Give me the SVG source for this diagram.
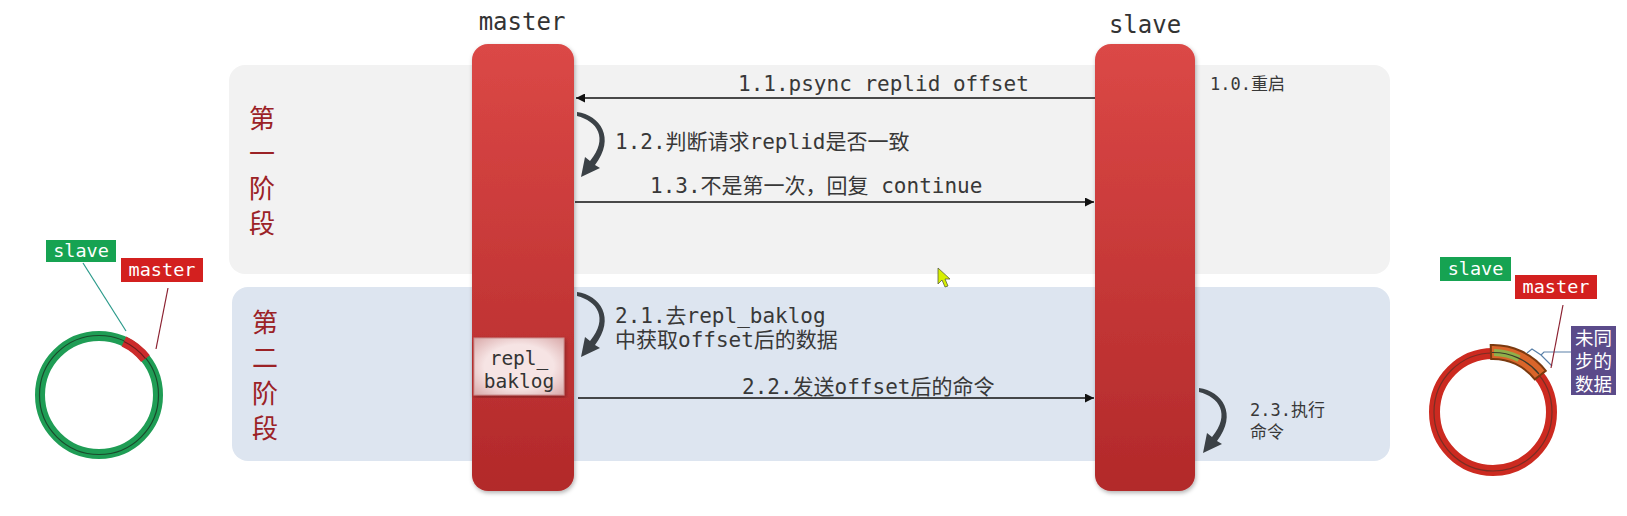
<svg xmlns="http://www.w3.org/2000/svg" width="1627" height="516" viewBox="0 0 1627 516">
<defs>
<style>
.mono{font-family:"DejaVu Sans Mono","Liberation Mono","Noto Sans CJK SC",monospace;}
.lbl{font-size:21px;fill:#383838;}
.sm{font-size:17px;fill:#383838;}
.phase{font-family:"Noto Sans CJK SC","Noto Sans",sans-serif;font-size:26px;fill:#9b2226;text-anchor:middle;}
.tag{font-size:18.5px;fill:#fff;text-anchor:middle;}
.conn{stroke:#111;stroke-width:1.4;fill:none;}
.arc{fill:#3b4146;}
.cjk{font-family:"Noto Sans CJK SC",sans-serif;font-size:18.5px;fill:#fff;text-anchor:middle;}
</style>
<linearGradient id="barG" x1="0" y1="0" x2="0" y2="1">
<stop offset="0" stop-color="#db4846"/>
<stop offset="1" stop-color="#b2292a"/>
</linearGradient>
<radialGradient id="bakG" cx="0.5" cy="0.5" r="0.7">
<stop offset="0.55" stop-color="#f6e4e4"/>
<stop offset="1" stop-color="#d9a9a9"/>
</radialGradient>
<filter id="sh" x="-20%" y="-5%" width="140%" height="110%">
<feDropShadow dx="1" dy="2" stdDeviation="2" flood-color="#000" flood-opacity="0.3"/>
</filter>
<marker id="ah" viewBox="0 0 10 10" refX="10" refY="5" markerWidth="10" markerHeight="9" markerUnits="userSpaceOnUse" orient="auto">
<path d="M0,0 L10,5 L0,10 Z" fill="#111"/>
</marker>
<path id="curl" d="M577 112 C600 115 616 138 595 165 L600 168 L581 177 L585 157 L590 161 C609 138 597 121 577 116 Z"/>
</defs>

<rect width="1627" height="516" fill="#fff"/>

<g id="phase1">
<rect x="229" y="65" width="1161" height="209" rx="16" fill="#f2f2f2"/>
<text class="phase" x="262" y="128">第</text>
<text class="phase" x="262" y="163">一</text>
<text class="phase" x="262" y="198">阶</text>
<text class="phase" x="262" y="233">段</text>
</g>
<g id="phase2">
<rect x="232" y="287" width="1158" height="174" rx="16" fill="#dde5f0"/>
<text class="phase" x="265" y="332">第</text>
<text class="phase" x="265" y="367">二</text>
<text class="phase" x="265" y="403">阶</text>
<text class="phase" x="265" y="438">段</text>
</g>

<g id="master">
<text class="mono" x="522" y="30" font-size="24" fill="#333" text-anchor="middle">master</text>
<rect x="472" y="44" width="102" height="447" rx="16" fill="url(#barG)" filter="url(#sh)"/>
</g>
<g id="slave">
<text class="mono" x="1145" y="33" font-size="24" fill="#333" text-anchor="middle">slave</text>
<rect x="1095" y="44" width="100" height="447" rx="16" fill="url(#barG)" filter="url(#sh)"/>
</g>

<g id="repl_baklog">
<rect x="474" y="338" width="90" height="57" fill="url(#bakG)" stroke="#c98f8f" stroke-width="1" filter="url(#sh)"/>
<text class="mono" x="519" y="365" font-size="19.5" fill="#333" text-anchor="middle">repl_</text>
<text class="mono" x="519" y="388" font-size="19.5" fill="#333" text-anchor="middle">baklog</text>
</g>

<g id="connectors">
<line class="conn" x1="1095" y1="98" x2="576" y2="98" marker-end="url(#ah)"/>
<use href="#curl" class="arc"/>
<line class="conn" x1="575" y1="202" x2="1094" y2="202" marker-end="url(#ah)"/>
<use href="#curl" class="arc" transform="translate(0,180)"/>
<line class="conn" x1="578" y1="398" x2="1094" y2="398" marker-end="url(#ah)"/>
<use href="#curl" class="arc" transform="translate(622,276)"/>
</g>

<g id="labels">
<text class="mono lbl" x="738" y="91">1.1.psync replid offset</text>
<text class="mono sm" x="1210" y="90">1.0.重启</text>
<text class="mono lbl" x="615" y="149">1.2.判断请求replid是否一致</text>
<text class="mono lbl" x="650" y="193">1.3.不是第一次，回复 continue</text>
<text class="mono lbl" x="615" y="323">2.1.去repl_baklog</text>
<text class="mono lbl" x="615" y="347">中获取offset后的数据</text>
<text class="mono lbl" x="742" y="394">2.2.发送offset后的命令</text>
<text class="mono sm" x="1250" y="416">2.3.执行</text>
<text class="mono sm" x="1250" y="438">命令</text>
</g>

<g id="ring-left">
<circle cx="99" cy="395" r="59" fill="none" stroke="#1f9d55" stroke-width="10"/>
<circle cx="99" cy="395" r="59.5" fill="none" stroke="#1a4a2c" stroke-width="1.2"/>
<path d="M123.9 341.5 A59 59 0 0 1 145.5 358.7" fill="none" stroke="#cc2b2b" stroke-width="11"/>
<path d="M123.9 341.5 A59.5 59.5 0 0 1 145.5 358.7" fill="none" stroke="#6b1f1f" stroke-width="1.2"/>
<line x1="83" y1="263" x2="126" y2="331" stroke="#2a9a8a" stroke-width="1.2"/>
<line x1="168" y1="288" x2="156" y2="349" stroke="#8b2030" stroke-width="1.2"/>
<rect x="46" y="240" width="70" height="22" fill="#16a352"/>
<text class="mono tag" x="81" y="257">slave</text>
<rect x="121" y="258" width="82" height="24" fill="#d3201f"/>
<text class="mono tag" x="162" y="276">master</text>
</g>

<g id="ring-right">
<circle cx="1493" cy="412" r="58.5" fill="none" stroke="#cc2a20" stroke-width="11"/>
<circle cx="1493" cy="412" r="59" fill="none" stroke="#7a2e24" stroke-width="1.2"/>
<path d="M1490.7 345 A67 67 0 0 1 1545.8 370.75 L1534.8 379.4 A53 53 0 0 0 1491.2 359 Z" fill="#d9652a" stroke="#7a3a10" stroke-width="2"/>
<path d="M1494.1 349 A63 63 0 0 1 1520.6 355.4 L1517.6 361.7 A56 56 0 0 0 1494 356 Z" fill="#8fb04a"/>
<path d="M1492 352.5 A59.5 59.5 0 0 1 1539 374" fill="none" stroke="#3a3a2a" stroke-width="1.2"/>
<polyline points="1527,353 1532,349 1541,355 1552,366" fill="none" stroke="#5a80a8" stroke-width="1.2"/>
<polyline points="1541,355 1544,352 1571,352" fill="none" stroke="#5a80a8" stroke-width="1.2"/>
<line x1="1563" y1="305" x2="1551" y2="368" stroke="#8b2030" stroke-width="1.2"/>
<rect x="1440" y="257" width="71" height="24" fill="#16a352"/>
<text class="mono tag" x="1475.5" y="275">slave</text>
<rect x="1515" y="275" width="82" height="24" fill="#d3201f"/>
<text class="mono tag" x="1556" y="293">master</text>
<rect x="1571" y="326" width="45" height="69" fill="#5b4b8a"/>
<text class="cjk" x="1593.5" y="345">未同</text>
<text class="cjk" x="1593.5" y="368">步的</text>
<text class="cjk" x="1593.5" y="391">数据</text>
</g>

<polygon points="938,268 938,284 942,280 945,287 948,286 945,279 950,279" fill="#d6ef00" stroke="#5a6040" stroke-width="0.8"/>
</svg>
